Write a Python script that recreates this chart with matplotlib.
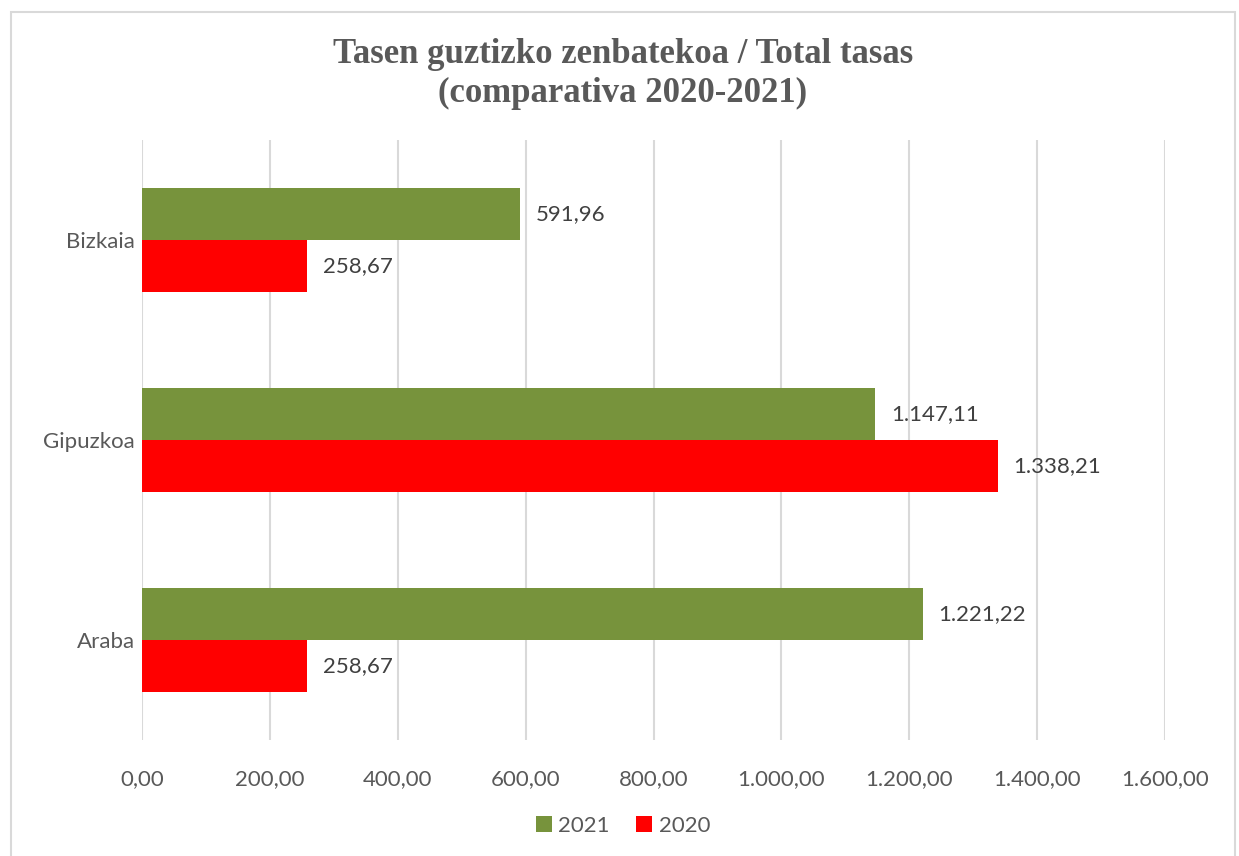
import matplotlib
matplotlib.use("Agg")
import matplotlib.pyplot as plt
from matplotlib.patches import Rectangle

categories = ["Araba", "Gipuzkoa", "Bizkaia"]
series_2021 = [1221.22, 1147.11, 591.96]
series_2020 = [258.67, 1338.21, 258.67]
labels_2021 = ["1.221,22", "1.147,11", "591,96"]
labels_2020 = ["258,67", "1.338,21", "258,67"]
xticks = [0, 200, 400, 600, 800, 1000, 1200, 1400, 1600]
xtick_labels = ["0,00", "200,00", "400,00", "600,00", "800,00", "1.000,00", "1.200,00", "1.400,00", "1.600,00"]

GREEN = "#77933C"
RED = "#FF0000"
TXT = "#595959"
GRID = "#D9D9D9"
FONT = "Lato"
FS = 16

fig = plt.figure(figsize=(12.39, 8.56), dpi=100)
fig.patches.append(Rectangle((11/1239, -0.1), (1235-11)/1239, 1 - 12/856 + 0.1,
                             transform=fig.transFigure, fill=False,
                             edgecolor=GRID, linewidth=1.5))
ax = fig.add_axes([142/1239, 1 - 740/856, (1165-142)/1239, 600/856])

h = 0.26
y = list(range(len(categories)))
y21 = [v + h/2 for v in y]
y20 = [v - h/2 for v in y]
b21 = ax.barh(y21, series_2021, height=h, color=GREEN, label="2021", zorder=3)
b20 = ax.barh(y20, series_2020, height=h, color=RED, label="2020", zorder=3)
ax.set_ylim(-0.5, 2.5)
ax.set_xlim(0, 1600)

for yy, v, lab in zip(y21, series_2021, labels_2021):
    ax.annotate(lab, (v, yy), xytext=(11, 0), textcoords="offset points",
                va="center", ha="left", fontsize=FS, color="#404040", family=FONT)
for yy, v, lab in zip(y20, series_2020, labels_2020):
    ax.annotate(lab, (v, yy), xytext=(11, 0), textcoords="offset points",
                va="center", ha="left", fontsize=FS, color="#404040", family=FONT)

ax.set_xticks(xticks)
ax.set_xticklabels(xtick_labels)
ax.set_yticks(y)
ax.set_yticklabels(categories)
ax.grid(axis="x", color=GRID, linewidth=1.5, zorder=0)
ax.tick_params(axis="both", length=0, labelsize=FS, colors=TXT, pad=5)
ax.tick_params(axis="x", pad=21)
for lab in ax.get_xticklabels() + ax.get_yticklabels():
    lab.set_family(FONT)
for s in ax.spines.values():
    s.set_visible(False)

fig.text(623/1239, 1 - 74/856, "Tasen guztizko zenbatekoa / Total tasas\n(comparativa 2020-2021)",
         ha="center", va="center", fontsize=25, fontweight="bold", color=TXT,
         family="Liberation Serif", linespacing=1.25)

leg = fig.legend(handles=[b21, b20], labels=["2021", "2020"], loc="center",
                 bbox_to_anchor=(623/1239, 1 - 826/856), ncol=2, frameon=False,
                 prop={"family": FONT, "size": FS}, handlelength=0.7, handleheight=0.7,
                 handletextpad=0.3, columnspacing=1.2)
for t in leg.get_texts():
    t.set_color(TXT)

fig.savefig("out.png", dpi=100)
